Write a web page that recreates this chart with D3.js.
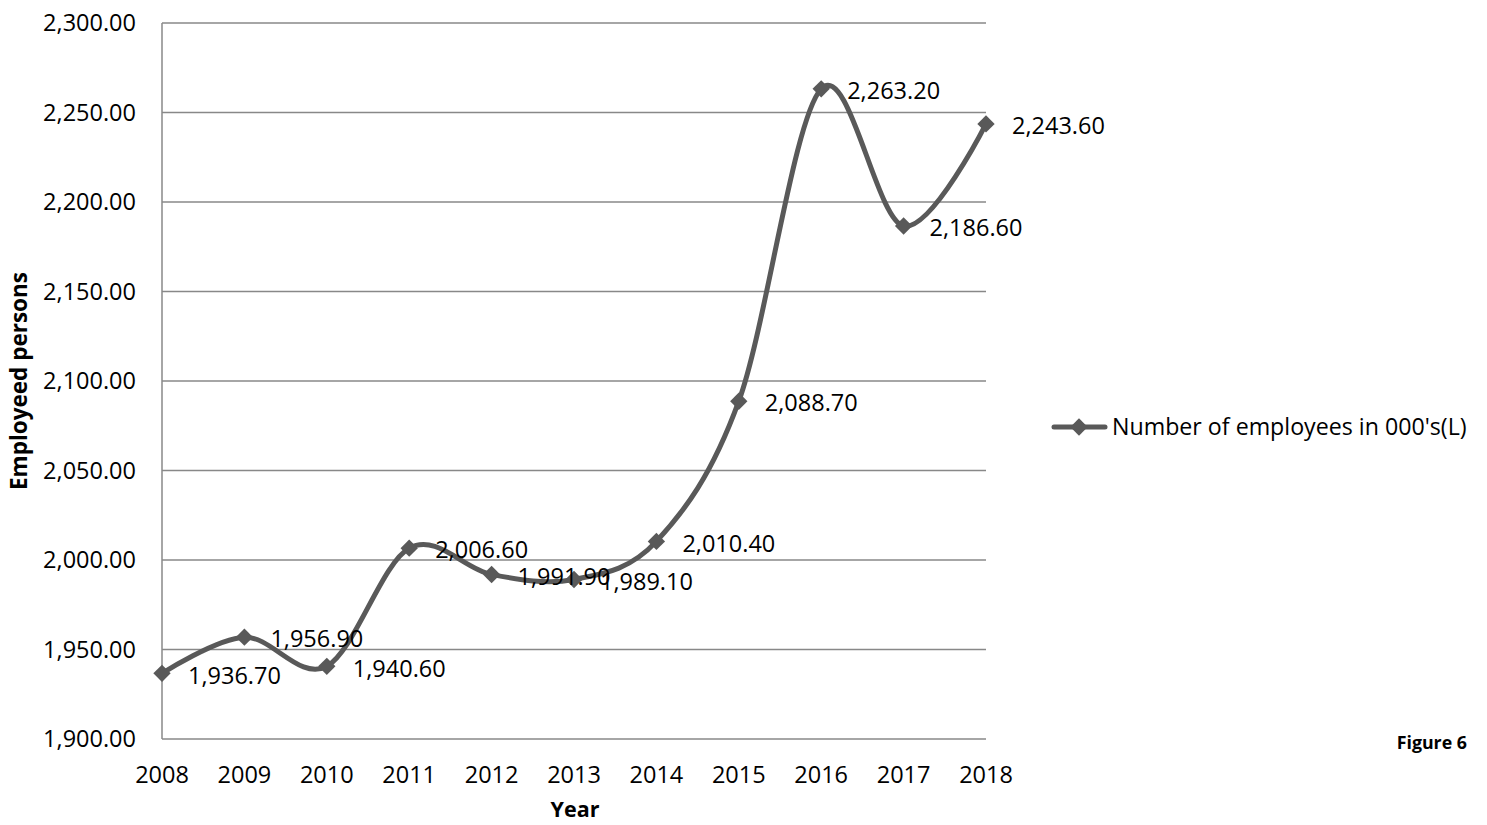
<!DOCTYPE html>
<html><head><meta charset="utf-8">
<script src="https://cdn.jsdelivr.net/npm/d3@7"></script>
<style>html,body{margin:0;padding:0;background:#fff;}svg{display:block;}</style>
</head><body>
<script>
const years = ["2008","2009","2010","2011","2012","2013","2014","2015","2016","2017","2018"];
const employees = [1936.7, 1956.9, 1940.6, 2006.6, 1991.9, 1989.1, 2010.4, 2088.7, 2263.2, 2186.6, 2243.6];
const yTicks = [1900, 1950, 2000, 2050, 2100, 2150, 2200, 2250, 2300];
const seriesName = "Number of employees in 000's(L)";
const xTitle = "Year";
const yTitle = "Employeed persons";
const figLabel = "Figure 6";

const W = 1487, H = 825;
const font = "'Open Sans', sans-serif";
const lineColor = "#595959";
const gridColor = "#888888";

const svg = d3.select("body").append("svg").attr("width", W).attr("height", H);

const x = d3.scalePoint().domain(years).range([162, 986]).padding(0);
const y = d3.scaleLinear().domain([1900, 2300]).range([739, 23]);
const fmt = d3.format(",.2f");

// gridlines
svg.append("g").selectAll("line").data(yTicks.slice(1)).join("line")
  .attr("x1", 162).attr("x2", 986)
  .attr("y1", d => y(d)).attr("y2", d => y(d))
  .attr("stroke", gridColor).attr("stroke-width", 1.5);

// axes lines
svg.append("line").attr("x1", 162).attr("x2", 162).attr("y1", 23).attr("y2", 739)
  .attr("stroke", gridColor).attr("stroke-width", 1.5);
svg.append("line").attr("x1", 162).attr("x2", 986).attr("y1", 739).attr("y2", 739)
  .attr("stroke", gridColor).attr("stroke-width", 1.5);

// y tick labels
svg.append("g").selectAll("text").data(yTicks).join("text")
  .attr("x", 136).attr("y", d => y(d)).attr("dy", "0.35em")
  .attr("text-anchor", "end").attr("font-family", font).attr("font-size", 23.5)
  .attr("fill", "#000").text(d => fmt(d));

// x tick labels
svg.append("g").selectAll("text").data(years).join("text")
  .attr("x", d => x(d)).attr("y", 775).attr("dy", "0.35em")
  .attr("text-anchor", "middle").attr("font-family", font).attr("font-size", 23.5)
  .attr("fill", "#000").text(d => d);

// titles
svg.append("text").attr("transform", "translate(19,381) rotate(-90)")
  .attr("dy", "0.35em").attr("text-anchor", "middle")
  .attr("font-family", font).attr("font-weight", "bold").attr("font-size", 22.5)
  .text(yTitle);
svg.append("text").attr("x", 575).attr("y", 817)
  .attr("text-anchor", "middle").attr("font-family", font).attr("font-weight", "bold").attr("font-size", 21.5)
  .text(xTitle);
svg.append("text").attr("x", 1467).attr("y", 743).attr("dy", "0.35em")
  .attr("text-anchor", "end").attr("font-family", font).attr("font-weight", "bold").attr("font-size", 17.8)
  .text(figLabel);

// line
const data = years.map((yr, i) => ({yr, v: employees[i]}));
const line = d3.line().x(d => x(d.yr)).y(d => y(d.v)).curve(d3.curveCatmullRom.alpha(0));
svg.append("path").datum(data).attr("d", line)
  .attr("fill", "none").attr("stroke", lineColor).attr("stroke-width", 5)
  .attr("stroke-linejoin", "round").attr("stroke-linecap", "round");

const marker = d3.symbol().type(d3.symbolSquare).size(150);
svg.append("g").selectAll("path").data(data).join("path")
  .attr("transform", d => `translate(${x(d.yr)},${y(d.v)}) rotate(45)`)
  .attr("d", marker)
  .attr("fill", lineColor);

// data labels
svg.append("g").selectAll("text").data(data).join("text")
  .attr("x", d => x(d.yr) + 26).attr("y", d => y(d.v) + 2).attr("dy", "0.35em")
  .attr("font-family", font).attr("font-size", 23.5).attr("fill", "#000")
  .text(d => fmt(d.v));

// legend
const lg = svg.append("g");
lg.append("line").attr("x1", 1054).attr("x2", 1105).attr("y1", 427).attr("y2", 427)
  .attr("stroke", lineColor).attr("stroke-width", 5).attr("stroke-linecap", "round");
lg.append("path").attr("transform", "translate(1079,427) rotate(45)")
  .attr("d", marker).attr("fill", lineColor);
lg.append("text").attr("x", 1112).attr("y", 427).attr("dy", "0.35em")
  .attr("font-family", font).attr("font-size", 23.2).attr("fill", "#000").text(seriesName);
</script>
</body></html>
